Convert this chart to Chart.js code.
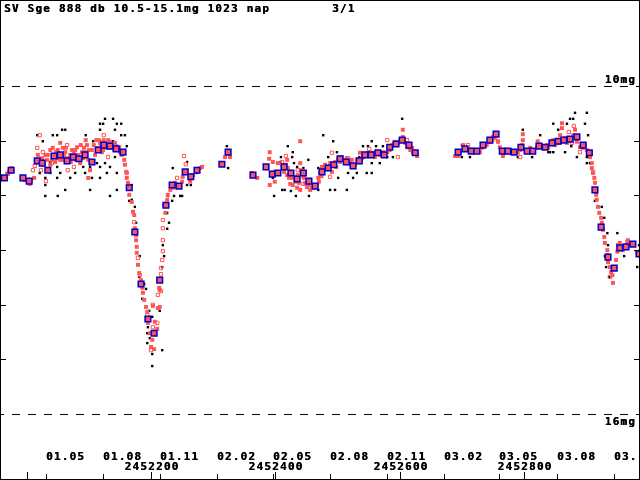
<!DOCTYPE html>
<html>
<head>
<meta charset="utf-8">
<script src="https://cdn.jsdelivr.net/npm/chart.js@4.4.0/dist/chart.umd.min.js"></script>
<style>
  html, body { margin: 0; padding: 0; background: #fff; }
  #wrap { width: 640px; height: 480px; }
</style>
</head>
<body>
<div id="wrap"><canvas id="c" width="640" height="480"></canvas></div>
<script>
// Time axis values are JD - 2450000; magnitudes in mag.
const titleText = "SV Sge 888 db 10.5-15.1mg 1023 nap";
const pageText = "3/1";

// Mean values (blue squares) [JD-2450000, mag]
const meanPts = [
[1964,11.68],[1975,11.54],[1994,11.68],[2004,11.74],[2017,11.37],[2025,11.41],[2034,11.54],[2044,11.28],
[2054,11.26],[2065,11.37],[2075,11.30],[2084,11.33],[2094,11.26],[2105,11.39],[2115,11.17],[2124,11.08],
[2134,11.10],[2144,11.15],[2155,11.21],[2165,11.86],[2174,12.67],[2184,13.62],[2195,14.26],[2205,14.52],
[2214,13.55],[2224,12.18],[2234,11.81],[2245,11.83],[2255,11.57],[2264,11.66],[2274,11.54],[2314,11.43],
[2324,11.21],[2364,11.63],[2385,11.48],[2395,11.61],[2404,11.59],[2414,11.48],[2425,11.59],[2435,11.70],
[2445,11.59],[2454,11.74],[2464,11.83],[2475,11.57],[2485,11.50],[2494,11.44],[2504,11.33],[2514,11.39],
[2525,11.46],[2535,11.37],[2544,11.26],[2554,11.26],[2565,11.22],[2575,11.26],[2584,11.12],[2594,11.06],
[2604,10.99],[2615,11.08],[2625,11.22],[2694,11.21],[2705,11.15],[2715,11.19],[2724,11.19],[2734,11.08],
[2745,10.99],[2755,10.88],[2765,11.19],[2774,11.19],[2784,11.21],[2795,11.12],[2805,11.19],[2814,11.19],
[2824,11.10],[2834,11.12],[2845,11.04],[2855,11.01],[2864,10.99],[2874,10.97],[2885,10.93],[2895,11.08],
[2905,11.22],[2914,11.90],[2924,12.58],[2935,13.13],[2945,13.33],[2954,12.96],[2964,12.94],[2975,12.89],
[2985,13.07]
];

// Filled red squares [JD-2450000, mag]
const redPts = [
[1960,11.68],[1967,11.68],[1970,11.61],[1972,11.57],[1976,11.50],[1997,11.72],[2002,11.75],[2007,11.72],
[2012,11.68],[2005,11.79],[2018,11.26],[2021,11.35],[2025,11.32],[2028,11.44],[2030,11.26],[2033,11.35],
[2038,11.44],[2041,11.35],[2042,11.13],[2046,11.39],[2049,11.32],[2050,11.17],[2054,11.04],[2057,11.35],
[2058,11.13],[2062,11.21],[2066,11.32],[2070,11.26],[2073,11.17],[2076,11.22],[2079,11.35],[2083,11.26],
[2086,11.41],[2089,11.21],[2092,11.13],[2095,10.99],[2097,11.08],[2099,11.35],[2099,11.68],[2102,11.54],
[2105,11.17],[2108,11.08],[2112,10.99],[2115,11.13],[2118,11.04],[2121,11.21],[2124,10.99],[2128,11.13],
[2131,10.99],[2134,11.02],[2137,11.08],[2141,11.17],[2144,11.10],[2147,11.17],[2150,11.21],[2153,11.26],
[2157,11.35],[2158,11.44],[2160,11.57],[2161,11.68],[2163,11.77],
[2034,11.26],[2038,11.17],[2047,11.21],[2054,11.35],[2060,11.28],[2063,11.13],[2071,11.39],[2078,11.17],
[2081,11.12],[2087,11.08],[2091,11.32],[2094,11.21],[2100,11.17],[2110,11.26],[2116,10.99],[2120,11.10],
[2123,11.17],[2129,11.08],[2136,11.13],[2142,11.04],[2149,11.12],
[2165,11.99],[2169,12.12],[2171,12.30],[2173,12.36],[2174,12.60],[2176,12.73],[2176,12.82],[2177,12.94],
[2177,13.05],[2179,13.27],[2181,13.42],[2184,13.55],[2186,13.69],[2187,13.78],[2189,13.91],[2192,14.04],
[2194,14.13],[2195,14.33],[2198,14.52],[2202,14.64],[2200,14.77],[2205,14.81],[2203,14.02],[2211,14.06],
[2214,14.04],[2206,14.31],[2210,14.44],[2213,13.69],[2214,13.73],
[2223,12.32],[2226,12.08],[2227,11.99],[2231,11.90],[2234,11.85],[2239,11.77],[2235,11.86],[2250,11.75],
[2251,11.66],[2255,11.57],[2263,11.75],[2266,11.68],[2268,11.63],[2279,11.50],[2282,11.48],
[2319,11.30],[2327,11.30],[2322,11.22],
[2362,11.59],[2371,11.68],[2391,11.21],[2390,11.33],[2440,11.01],[2399,11.75],[2404,11.41],[2411,11.44],
[2419,11.35],[2420,11.50],[2424,11.59],[2427,11.68],[2424,11.79],[2432,11.75],[2435,11.86],[2440,11.41],
[2443,11.57],[2445,11.66],[2448,11.77],[2451,11.85],[2456,11.90],[2459,11.85],[2467,11.81],[2469,11.68],
[2472,11.59],[2475,11.48],[2480,11.44],[2488,11.41],[2491,11.57],[2496,11.39],[2501,11.35],[2507,11.30],
[2515,11.32],[2517,11.41],[2523,11.35],[2528,11.44],[2531,11.35],[2536,11.22],[2541,11.30],[2549,11.22],
[2557,11.22],[2568,11.26],[2580,11.21],[2588,11.08],[2593,11.02],[2601,10.99],[2609,11.04],[2612,11.12],
[2620,11.13],[2621,11.21],[2628,11.28],[2605,10.80],[2605,10.93],[2399,11.57],[2412,11.50],[2419,11.63],
[2436,11.63],[2396,11.39],[2391,11.81],[2440,11.90],
[2414,11.57],[2417,11.44],[2422,11.68],[2428,11.81],[2433,11.66],[2438,11.77],[2441,11.54],[2446,11.68],
[2453,11.81],[2462,11.86],[2470,11.75],[2474,11.65],[2483,11.50],[2498,11.48],[2504,11.39],[2512,11.35],
[2520,11.41],[2539,11.32],[2546,11.26],[2560,11.30],[2573,11.21],[2584,11.17],[2597,11.04],[2617,11.17],
[2689,11.28],[2694,11.28],[2702,11.08],[2710,11.15],[2718,11.21],[2729,11.21],[2732,11.13],[2740,11.08],
[2749,10.99],[2750,10.93],[2753,10.95],[2758,11.02],[2761,11.12],[2765,11.21],[2766,11.28],[2773,11.21],
[2781,11.21],[2790,11.22],[2794,11.17],[2797,11.08],[2798,10.99],[2798,10.88],[2802,11.17],[2806,11.17],
[2814,11.17],[2821,11.12],[2822,11.01],[2826,11.08],[2831,11.12],[2837,11.08],[2842,11.04],[2847,10.99],
[2855,11.04],[2858,10.90],[2861,10.77],[2861,10.68],[2866,10.95],[2869,11.04],[2874,10.99],[2879,10.90],
[2882,10.80],[2885,11.02],[2890,11.12],[2895,11.13],[2901,11.17],[2906,11.30],[2909,11.41],[2909,11.50],
[2697,11.21],[2707,11.17],[2745,11.02],[2777,11.17],[2810,11.13],[2839,11.13],[2850,11.08],[2871,10.95],
[2887,10.93],[2898,11.08],
[2911,11.59],[2913,11.68],[2914,11.77],[2916,11.99],[2917,12.08],[2919,12.21],[2921,12.32],[2924,12.41],
[2925,12.50],[2927,12.63],[2929,12.76],[2930,12.87],[2934,13.00],[2934,13.09],[2935,13.22],[2938,13.31],
[2940,13.40],[2942,13.46],[2943,13.60],[2948,13.18],[2950,13.03],[2951,12.91],[2954,12.87],[2959,13.00],
[2966,12.85],[2967,12.82],[2970,12.89],[2982,13.03],[2983,13.09]
];

// Open red squares [JD-2450000, mag]
const openPts = [
[2017,11.13],[2021,10.90],[2026,11.21],[2010,11.54],[2013,11.46],[2023,11.54],[2031,11.74],[2041,11.41],
[2065,11.08],[2066,11.54],[2076,11.48],[2124,10.90],[2131,11.30],[2161,11.59],
[2173,12.49],[2179,13.14],[2182,13.46],[2194,14.19],[2203,14.00],[2210,14.33],[2203,14.41],[2200,14.83],
[2211,13.82],[2216,13.75],[2216,13.44],[2216,13.33],[2218,13.18],[2219,13.02],[2219,12.82],[2219,12.60],
[2219,12.45],[2221,12.18],[2253,11.28],[2256,11.43],[2242,11.68],
[2411,11.39],[2417,11.28],[2436,11.54],[2445,11.79],[2491,11.22],[2488,11.66],[2517,11.32],[2580,10.99],
[2612,10.99],[2597,11.30],[2551,11.15],
[2710,11.08],[2758,11.01],[2794,11.30],[2872,10.84],[2880,10.73],[2877,11.04],[2890,11.21],[2911,11.57],
[2938,13.49]
];

// Black dots [JD-2450000, mag]
const blackPts = [
[1957,11.68],[1968,11.59],[2017,10.90],[2026,11.01],[2042,10.90],[2049,10.90],[2057,10.80],[2062,10.80],
[2095,10.90],[2118,10.80],[2123,10.69],[2126,10.60],[2139,10.60],[2145,10.69],[2152,10.69],[2152,10.90],
[2158,10.90],[2142,10.80],[2118,10.69],[2107,11.01],[2118,11.01],[2139,11.01],[2161,11.10],[2030,11.68],
[2038,11.59],[2049,11.48],[2049,11.68],[2054,11.59],[2070,11.68],[2078,11.59],[2091,11.48],[2094,11.59],
[2102,11.48],[2102,11.90],[2105,11.68],[2118,11.68],[2118,11.48],[2129,11.59],[2134,11.48],[2145,11.59],
[2145,11.90],[2030,12.01],[2050,12.01],[2062,11.90],[2021,11.59],[2134,12.01],[2142,11.30],[2126,11.41],
[2113,11.41],[2026,11.41],[2038,11.39],[2030,11.81],
[2169,11.81],[2169,12.08],[2174,12.21],[2165,12.10],[2176,12.50],[2182,13.11],[2181,13.49],[2189,13.62],
[2192,13.71],[2186,13.89],[2202,14.02],[2214,14.11],[2197,14.11],[2202,14.22],[2195,14.41],[2194,14.52],
[2198,14.61],[2194,14.70],[2202,14.90],[2218,14.83],[2202,15.12],[2218,13.31],[2221,13.11],[2219,12.91],
[2226,12.61],[2229,12.50],[2226,12.32],[2234,12.10],[2227,12.01],[2237,12.01],[2250,12.01],[2258,11.81],
[2264,11.81],[2232,11.81],[2235,11.50],[2247,12.01],[2258,11.39],[2274,11.59],
[2322,11.10],[2324,11.50],[2420,11.10],[2477,10.90],[2493,11.01],[2428,11.21],[2427,11.30],[2430,11.41],
[2409,11.30],[2408,11.39],[2396,11.68],[2398,12.01],[2411,11.90],[2415,11.90],[2425,11.92],[2433,12.01],
[2454,12.01],[2469,11.90],[2488,11.90],[2496,11.90],[2501,11.68],[2515,11.90],[2525,11.68],[2517,11.59],
[2531,11.59],[2547,11.59],[2555,11.59],[2555,11.41],[2568,11.41],[2535,11.30],[2541,11.10],[2549,11.10],
[2555,11.01],[2562,11.10],[2573,11.10],[2581,11.10],[2589,11.10],[2499,11.21],[2485,11.30],[2604,10.60],
[2580,11.30],[2589,11.30],[2477,11.50],[2469,11.50],[2445,11.50],[2453,11.35],[2435,11.48],
[2700,11.08],[2700,11.30],[2713,11.30],[2798,10.80],[2790,11.30],[2813,11.30],[2826,10.90],[2847,10.69],
[2855,10.80],[2858,10.90],[2847,11.21],[2842,11.21],[2866,11.21],[2869,10.69],[2874,10.60],[2879,10.60],
[2882,10.49],[2901,10.49],[2898,10.69],[2903,10.90],[2885,11.30],[2901,11.30],[2901,11.41],[2906,11.41],
[2876,11.10],[2839,11.21],
[2914,12.10],[2925,12.21],[2929,12.41],[2934,12.69],[2950,12.69],[2935,12.91],[2930,13.11],[2934,13.22],
[2932,13.31],[2937,13.49],[2961,13.11],[2982,13.31],[2985,12.91]
];

// Axis ticks / labels
const monthTicks = [2030.5, 2122.5, 2214.5, 2306.5, 2395.5, 2487.5, 2579.5, 2671.5, 2760.5, 2852.5, 2944.5];
const monthLabels = ["01.05","01.08","01.11","02.02","02.05","02.08","02.11","03.02","03.05","03.08","03.11"];
const jdTicks = [2000, 2200, 2400, 2600, 2800];
const jdLabels = ["", "2452200", "2452400", "2452600", "2452800"];
const magTicks = [11, 12, 13, 14, 15];
const magLines = [10, 16];
const magLineLabels = ["10mg", "16mg"];

const toXY = a => a.map(p => ({x: p[0], y: p[1]}));
const FONT = 'bold 11px "DejaVu Sans Mono", "Liberation Mono", monospace';

function drawText(ctx, s, x, y) {
  ctx.fillText(s, x, y);
  ctx.fillText(s, x + 0.4, y);
}

const framePlugin = {
  id: 'frame',
  afterDraw(chart) {
    const ctx = chart.ctx;
    const xs = chart.scales.x, ys = chart.scales.y;
    const W = chart.width, H = chart.height;
    ctx.save();
    ctx.strokeStyle = '#000';
    ctx.lineWidth = 1;
    // dashed magnitude lines
    ctx.setLineDash([8, 8]);
    ctx.lineDashOffset = 4;
    magLines.forEach(m => {
      const y = Math.round(ys.getPixelForValue(m)) + 0.5;
      ctx.beginPath(); ctx.moveTo(0, y); ctx.lineTo(W, y); ctx.stroke();
    });
    ctx.setLineDash([]);
    // frame
    ctx.strokeRect(0.5, 0.5, W - 1, H - 1);
    // y ticks both sides
    magTicks.forEach(m => {
      const y = Math.round(ys.getPixelForValue(m)) + 0.5;
      ctx.beginPath(); ctx.moveTo(0, y); ctx.lineTo(6, y); ctx.stroke();
      ctx.beginPath(); ctx.moveTo(W - 6, y); ctx.lineTo(W, y); ctx.stroke();
    });
    // x ticks
    monthTicks.forEach(t => {
      const x = Math.round(xs.getPixelForValue(t)) + 0.5;
      ctx.beginPath(); ctx.moveTo(x, H); ctx.lineTo(x, H - 6); ctx.stroke();
    });
    jdTicks.forEach(t => {
      const x = Math.round(xs.getPixelForValue(t)) + 0.5;
      ctx.beginPath(); ctx.moveTo(x, H); ctx.lineTo(x, H - 8); ctx.stroke();
    });
    // texts
    ctx.font = FONT;
    ctx.fillStyle = '#000';
    try { ctx.letterSpacing = '1.2px'; } catch (e) {}
    ctx.textBaseline = 'middle';
    ctx.textAlign = 'left';
    drawText(ctx, titleText, 4, 9);
    drawText(ctx, pageText, 332, 9);
    ctx.textAlign = 'right';
    drawText(ctx, magLineLabels[0], 636, Math.round(ys.getPixelForValue(magLines[0])) - 6);
    drawText(ctx, magLineLabels[1], 636, Math.round(ys.getPixelForValue(magLines[1])) + 8);
    // month labels (clipped at the frame)
    ctx.save();
    ctx.beginPath(); ctx.rect(0, 0, W - 3, H); ctx.clip();
    ctx.textAlign = 'left';
    monthTicks.forEach((t, i) => {
      const x = Math.round(xs.getPixelForValue(t));
      drawText(ctx, monthLabels[i], x, 457);
    });
    ctx.restore();
    ctx.textAlign = 'center';
    jdTicks.forEach((t, i) => {
      if (!jdLabels[i]) return;
      const x = Math.round(xs.getPixelForValue(t));
      drawText(ctx, jdLabels[i], x + 1, 467);
    });
    ctx.restore();
  }
};

const RED = 'rgb(255,85,85)';
new Chart(document.getElementById('c'), {
  type: 'scatter',
  data: {
    datasets: [
      { label: 'mean', data: toXY(meanPts), order: 0, pointStyle: 'rect', pointRadius: 4,
        backgroundColor: RED, borderColor: '#0000c8', borderWidth: 1.5 },
      { label: 'open', data: toXY(openPts), order: 1, pointStyle: 'rect', pointRadius: 2.3,
        backgroundColor: 'rgba(255,255,255,0)', borderColor: RED, borderWidth: 1 },
      { label: 'red', data: toXY(redPts), order: 2, pointStyle: 'rect', pointRadius: 2.8,
        backgroundColor: RED, borderColor: RED, borderWidth: 0 },
      { label: 'black', data: toXY(blackPts), order: 3, pointStyle: 'rect', pointRadius: 1.7,
        backgroundColor: '#000', borderColor: '#000', borderWidth: 0 }
    ]
  },
  options: {
    responsive: false,
    animation: false,
    devicePixelRatio: 1,
    layout: { padding: 0, autoPadding: false },
    plugins: { legend: { display: false }, tooltip: { enabled: false } },
    elements: { point: { hoverRadius: 0 } },
    scales: {
      x: { type: 'linear', min: 1957.1, max: 2986.5, display: false },
      y: { type: 'linear', min: 8.428, max: 17.203, reverse: true, display: false }
    }
  },
  plugins: [framePlugin]
});
</script>
</body>
</html>
